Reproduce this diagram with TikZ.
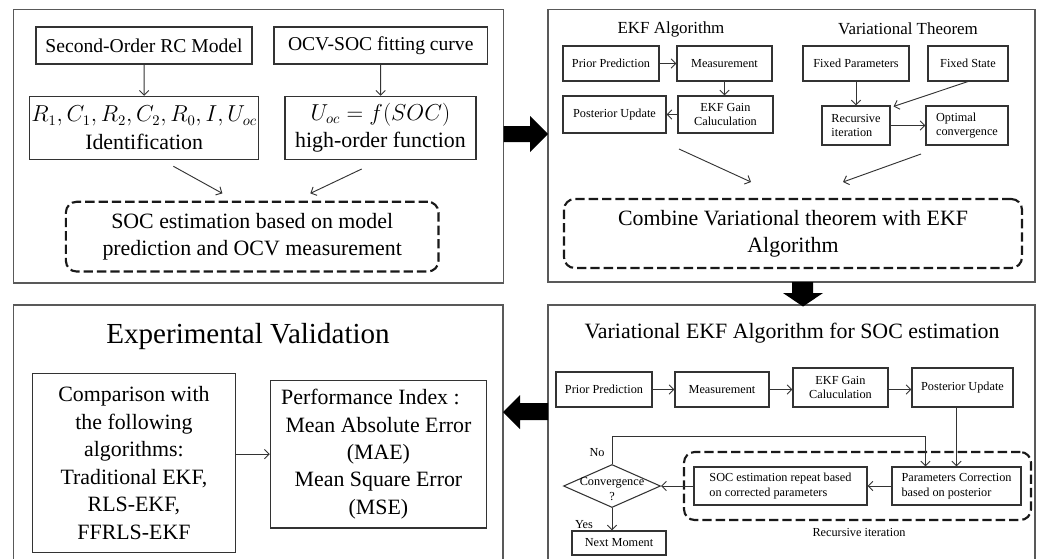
\documentclass[tikz,border=0pt]{standalone}
\usepackage{fontspec}
\setmainfont{Liberation Serif}
\usetikzlibrary{arrows.meta,shapes.geometric,calc}
\begin{document}
\begin{tikzpicture}[x=0.75pt,y=-0.75pt,
  rr/.style n args={4}{minimum width={(#3-#1)*0.75pt}, minimum height={(#4-#2)*0.75pt}, at={({(#1+#3)/2},{(#2+#4)/2})}},
  panel/.style={draw=black!65,line width=0.9pt,inner sep=0pt},
  box/.style={draw=black!80,line width=0.8pt,inner sep=0pt,align=center},
  dbox/.style={draw=black!90,line width=1.6pt,dash pattern=on 7pt off 3pt,rounded corners=8pt,inner sep=0pt,align=center},
  arr/.style={-{Straight Barb[length=3.5pt,width=7pt]},line width=0.7pt,draw=black!80},
  fA/.style={font=\fontsize{14.7}{18}\selectfont},
  fB/.style={font=\fontsize{16.4}{20.6}\selectfont},
  fS/.style={font=\fontsize{9.2}{11}\selectfont},
  fT/.style={font=\fontsize{12.7}{15}\selectfont},
  fL/.style={font=\fontsize{21.8}{26}\selectfont},
]
\useasboundingbox (0,0) rectangle (1042,558);
% panels
\node[panel,rr={13.5}{9.5}{503.5}{283}] (P1) {};
\node[panel,rr={548}{9.5}{1035}{282}] (P2) {};
\node[panel,rr={13.8}{305}{503}{565}] (P3) {};
\node[panel,rr={548}{305}{1035}{565}] (P4) {};
% big arrows
\fill (503.5,126) -- (530,126) -- (530,116) -- (548,134) -- (530,152) -- (530,142) -- (503.5,142) -- cycle;
\fill (792,282) -- (813,282) -- (813,293) -- (823,293) -- (803,306.5) -- (783,293) -- (792,293) -- cycle;
\fill (548,403) -- (520,403) -- (520,395) -- (503,412) -- (520,429) -- (520,420) -- (548,420) -- cycle;
% panel 1
\node[box,fA,rr={36}{27}{252}{64}] (rc) {Second-Order RC Model};
\node[box,fA,rr={274}{27}{487.5}{64}] (ocv) {OCV-SOC fitting curve};
\node[box,fB,rr={29.7}{96.3}{258.6}{159.2}] (par) {{\fontsize{16}{16}\selectfont$R_1,C_1,R_2,C_2,R_0,I,U_{oc}$}\\Identification};
\node[box,fB,rr={285}{96.3}{476}{159.2}] (uoc) {{\fontsize{16}{16}\selectfont$U_{oc}=f(SOC)$}\\high-order function};
\node[dbox,fB,rr={65.9}{201.8}{438.5}{271.5}] (est) {SOC estimation based on model\\prediction and OCV measurement};
\draw[arr] (rc) -- (par);
\draw[arr] (ocv) -- (uoc);
\coordinate (d1a) at (173.4,166.3); \coordinate (d1b) at (222.4,193.4);
\coordinate (d2a) at (361.7,169); \coordinate (d2b) at (310.3,193.4);
\draw[arr] (d1a) -- (d1b);
\draw[arr] (d2a) -- (d2b);
% panel 2
\node[fT] (ekft) at (671,29) {EKF Algorithm};
\node[fT] (vart) at (908,29) {Variational Theorem};
\node[box,fS,rr={563}{46}{659}{81}] (pp1) {Prior Prediction};
\node[box,fS,rr={677}{46}{772}{81}] (me1) {Measurement};
\node[box,fS,rr={678}{96}{773}{133}] (gain1) {EKF Gain\\Caluculation};
\node[box,fS,rr={563}{96}{666}{133}] (post1) {Posterior Update};
\node[box,fS,rr={803}{46}{909}{81}] (fp) {Fixed Parameters};
\node[box,fS,rr={928}{46}{1008}{81}] (fs) {Fixed State};
\node[box,fS,align=left,rr={822}{106}{890}{145}] (ri) {Recursive\\iteration};
\node[box,fS,align=left,rr={926}{106}{1008}{145}] (oc) {Optimal\\convergence};
\node[dbox,fB,rr={564}{199}{1022}{268}] (comb) {Combine Variational theorem with EKF\\Algorithm};
\draw[arr] (pp1) -- (me1);
\draw[arr] (me1.south) -- (me1.south |- gain1.north);
\draw[arr] (gain1) -- (post1);
\draw[arr] (fp) -- (ri);
\draw[arr] (fs.south) -- ($(ri.north east)+(3,1)$);
\draw[arr] (ri) -- (oc);
\coordinate (d3a) at (679,149); \coordinate (d3b) at (751,182);
\coordinate (d4a) at (921,154); \coordinate (d4b) at (843,182);
\draw[arr] (d3a) -- (d3b);
\draw[arr] (d4a) -- (d4b);
% panel 4
\node[fB] (vt) at (792,333) {Variational EKF Algorithm for SOC estimation};
\node[box,fS,rr={556}{372}{652}{407}] (pp2) {Prior Prediction};
\node[box,fS,rr={675}{372}{769}{407}] (me2) {Measurement};
\node[box,fS,rr={793}{368}{888}{407}] (gain2) {EKF Gain\\Caluculation};
\node[box,fS,rr={912}{368}{1013}{407}] (post2) {Posterior Update};
\draw[arr] (pp2) -- (me2);
\draw[arr] (me2.east) -- (me2.east -| gain2.west);
\draw[arr] (gain2.east |- me2.east) -- (me2.east -| post2.west);
\node[dbox,rr={684}{452}{1031}{520}] (rec) {};
\node[box,fS,align=left,rr={694}{467}{867}{505}] (rep) {SOC estimation repeat based\\on corrected parameters};
\node[box,fS,align=left,rr={892}{467}{1021}{505}] (pc) {Parameters Correction\\based on posterior};
\node[diamond,draw=black!80,line width=0.8pt,minimum width=72.75pt,minimum height=32.25pt,inner sep=0pt] (conv) at (612,486) {};
\node[fS,align=center] (convt) at (612,489) {Convergence\\?};
\node[box,fS,rr={572}{531}{666}{555}] (next) {Next Moment};
\node[fS] (recl) at (859,532) {Recursive iteration};
\node[fS] (no) at (597,453) {No};
\node[fS] (yes) at (584,525) {Yes};
\draw[arr] (pc.north |- post2.south) -- (pc.north);
\draw[arr] (pc) -- (rep);
\draw[arr] (rep) -- (conv);
\coordinate (fb) at ($(pc.north west)+(34,0)$);
\draw[arr] (conv.north) -- (conv.north |- 0,436) -| (fb);
\draw[arr] (conv.south) -- (conv.south |- next.north);
% panel 3
\node[fL] (ev) at (248,336) {Experimental Validation};
\node[box,fB,rr={32.7}{373.3}{235.2}{552.4}] (cmp) {Comparison with\\the following\\algorithms:\\Traditional EKF,\\RLS-EKF,\\FFRLS-EKF};
\node[box,fB,rr={270.3}{380.2}{486.6}{528}] (perf) {Performance Index :\hspace*{12pt}\\Mean Absolute Error\\(MAE)\\Mean Square Error\\(MSE)};
\draw[arr] (perf.west -| cmp.east) -- (perf.west);
\end{tikzpicture}
\end{document}
